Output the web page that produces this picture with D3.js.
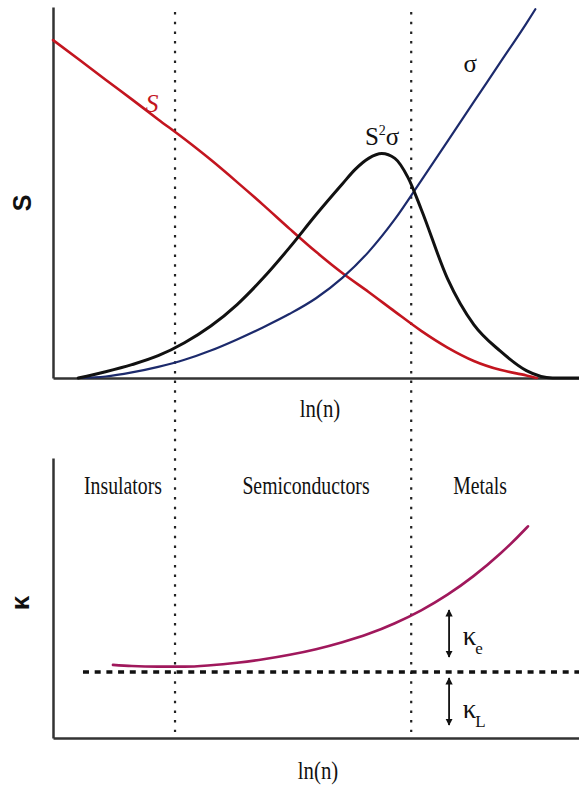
<!DOCTYPE html>
<html><head><meta charset="utf-8">
<script src="https://cdn.jsdelivr.net/npm/d3@7"></script>
<style>html,body{margin:0;padding:0;background:#fff}svg{display:block}</style>
</head><body>
<script>
// ---- data (x in ln(n) units 0..10, y in relative units 0..100) ----
const seebeckX      = [0, 0.5, 1, 1.5, 2, 2.5, 3, 3.5, 4, 4.5, 5, 5.5, 6, 6.5, 7, 7.5, 8, 8.5, 9, 9.2];
const seebeckValues = [91.1, 85.8, 80.4, 75.1, 69.7, 64.4, 58.8, 52.8, 46.6, 40.2, 34.0, 28.3, 23.2, 17.9, 12.7, 8.2, 4.6, 2.2, 0.7, 0];

const sigmaX      = [0.5, 1, 1.5, 2, 2.5, 3, 3.5, 4, 4.5, 5, 5.5, 6, 6.5, 7, 7.5, 8, 8.5, 9, 9.17];
const sigmaValues = [0, 0.4, 1.5, 3.0, 4.9, 7.4, 10.4, 13.7, 17.3, 21.5, 27.0, 34.0, 42.8, 53.2, 63.8, 74.4, 85.0, 95.6, 99.4];

const pfX      = [0.48, 1, 1.5, 2, 2.5, 3, 3.5, 4, 4.5, 5, 5.5, 5.75, 6, 6.25, 6.5, 6.75, 7, 7.5, 8, 8.5, 9, 9.5, 10];
const pfValues = [0, 1.7, 3.6, 6.0, 9.5, 14.0, 19.8, 27.0, 35.2, 44.0, 52.3, 56.3, 59.2, 60.5, 59.2, 54.0, 45.5, 26.8, 14.4, 7.3, 2.0, 0, 0];

const kappaX      = [1.14, 1.5, 2, 2.5, 3, 3.5, 4, 4.5, 5, 5.5, 6, 6.5, 7, 7.5, 8, 8.5, 9, 9.03];
const kappaValues = [26.1, 25.7, 25.5, 25.5, 26.0, 26.9, 28.1, 29.7, 31.7, 34.2, 37.2, 41.0, 45.6, 51.2, 57.9, 65.8, 75.0, 75.6];

const kappaLattice = 23.6;          // level of the horizontal dotted line
const kappaLineStart = 0.57;
const arrowX = 7.53;
const kappaEArrow = [45.7, 28.9];
const kappaLArrow = [21.4, 4.6];

const regionBounds = [2.32, 6.81];
const regionLabels = ["Insulators", "Semiconductors", "Metals"];
const regionLabelX = [1.33, 4.81, 8.12];

// ---- layout ----
const W = 579, H = 789;
const svg = d3.select("body").append("svg").attr("width", W).attr("height", H);

const x = d3.scaleLinear([0, 10], [53, 579]);
const yTop = d3.scaleLinear([0, 100], [378, 7]);
const yBot = d3.scaleLinear([0, 100], [738, 458]);

const serif = "'Liberation Serif','Times New Roman',serif";
const sans = "'Liberation Sans',Arial,sans-serif";

// region boundaries (dotted, spanning both panels)
svg.selectAll("line.bound").data(regionBounds).join("line")
  .attr("x1", d => x(d)).attr("x2", d => x(d))
  .attr("y1", 12).attr("y2", 732)
  .attr("stroke", "#222").attr("stroke-width", 2.2)
  .attr("stroke-dasharray", "2.5,7.2");

// axes
function styleAxis(g) {
  g.select(".domain").attr("stroke", "#333").attr("stroke-width", 2.5);
}
svg.append("g").attr("transform", "translate(0,378)")
  .call(d3.axisBottom(x).tickValues([]).tickSizeOuter(0)).call(styleAxis);
svg.append("g").attr("transform", "translate(53,0)")
  .call(d3.axisLeft(yTop).tickValues([]).tickSizeOuter(0)).call(styleAxis);
svg.append("g").attr("transform", "translate(0,738)")
  .call(d3.axisBottom(x).tickValues([]).tickSizeOuter(0)).call(styleAxis);
svg.append("g").attr("transform", "translate(53,0)")
  .call(d3.axisLeft(yBot).tickValues([]).tickSizeOuter(0)).call(styleAxis);

// curves
function drawCurve(xs, ys, yScale, color, width) {
  const pts = xs.map((d, i) => [d, ys[i]]);
  svg.append("path").datum(pts)
    .attr("fill", "none").attr("stroke", color).attr("stroke-width", width)
    .attr("stroke-linejoin", "round").attr("stroke-linecap", "round")
    .attr("d", d3.line().x(d => x(d[0])).y(d => yScale(d[1])).curve(d3.curveMonotoneX));
}
drawCurve(seebeckX, seebeckValues, yTop, "#c3151f", 2.6);
drawCurve(sigmaX, sigmaValues, yTop, "#1c2a6c", 2.2);
drawCurve(pfX, pfValues, yTop, "#111", 3);

// bottom: lattice line and kappa curve
svg.append("line")
  .attr("x1", x(kappaLineStart)).attr("x2", x(10))
  .attr("y1", yBot(kappaLattice)).attr("y2", yBot(kappaLattice))
  .attr("stroke", "#111").attr("stroke-width", 3.5)
  .attr("stroke-dasharray", "6,5.7");
drawCurve(kappaX, kappaValues, yBot, "#a0185c", 2.6);

// double-headed arrows
const defs = svg.append("defs");
defs.append("marker").attr("id", "ah").attr("viewBox", "0 0 10 10")
  .attr("refX", 9).attr("refY", 5).attr("markerWidth", 4).attr("markerHeight", 4)
  .attr("orient", "auto-start-reverse").attr("markerUnits", "strokeWidth")
  .append("path").attr("d", "M0,0 L10,5 L0,10 Z").attr("fill", "#111");
[kappaEArrow, kappaLArrow].forEach(a => {
  svg.append("line")
    .attr("x1", x(arrowX)).attr("x2", x(arrowX))
    .attr("y1", yBot(a[0])).attr("y2", yBot(a[1]))
    .attr("stroke", "#111").attr("stroke-width", 1.8)
    .attr("marker-start", "url(#ah)").attr("marker-end", "url(#ah)");
});

// ---- text ----
svg.append("text").attr("x", x(1.88)).attr("y", yTop(71.7))
  .attr("text-anchor", "middle").attr("font-family", serif).attr("font-style", "italic")
  .attr("font-size", 26).attr("fill", "#c3151f").text("S");
const pfLabel = svg.append("text").attr("x", x(5.93)).attr("y", yTop(62.8))
  .attr("font-family", serif).attr("font-size", 25).attr("fill", "#111");
pfLabel.append("tspan").text("S");
pfLabel.append("tspan").attr("font-size", 14).attr("dy", -10).text("2");
pfLabel.append("tspan").attr("dy", 10).text("σ");
svg.append("text").attr("x", x(7.93)).attr("y", yTop(82.5))
  .attr("text-anchor", "middle").attr("font-family", serif)
  .attr("font-size", 25).attr("fill", "#111").text("σ");

function kappaLabel(yv, sub) {
  const t = svg.append("text").attr("x", x(7.79)).attr("y", yBot(yv))
    .attr("font-family", serif).attr("font-size", 27).attr("fill", "#111");
  t.append("tspan").text("κ");
  t.append("tspan").attr("font-size", 17).attr("dy", 9).attr("dx", -1).text(sub);
}
kappaLabel(33.2, "e");
kappaLabel(7.1, "L");

regionLabels.forEach((s, i) => {
  svg.append("text")
    .attr("transform", `translate(${x(regionLabelX[i])},494) scale(0.76,1)`)
    .attr("text-anchor", "middle").attr("font-family", serif)
    .attr("font-size", 26).attr("fill", "#111").text(s);
});

[[320, 417], [318, 779]].forEach(p => {
  svg.append("text")
    .attr("transform", `translate(${p[0]},${p[1]}) scale(0.8,1)`)
    .attr("text-anchor", "middle").attr("font-family", serif)
    .attr("font-size", 26).attr("fill", "#111").text("ln(n)");
});
svg.append("text")
  .attr("transform", "translate(31,203) rotate(-90)")
  .attr("text-anchor", "middle").attr("font-family", sans).attr("font-weight", "bold")
  .attr("font-size", 25).attr("fill", "#111").text("S");
svg.append("text")
  .attr("transform", "translate(29,603) rotate(-90)")
  .attr("text-anchor", "middle").attr("font-family", sans).attr("font-weight", "bold")
  .attr("font-size", 26).attr("fill", "#111").text("κ");
</script>
</body></html>
